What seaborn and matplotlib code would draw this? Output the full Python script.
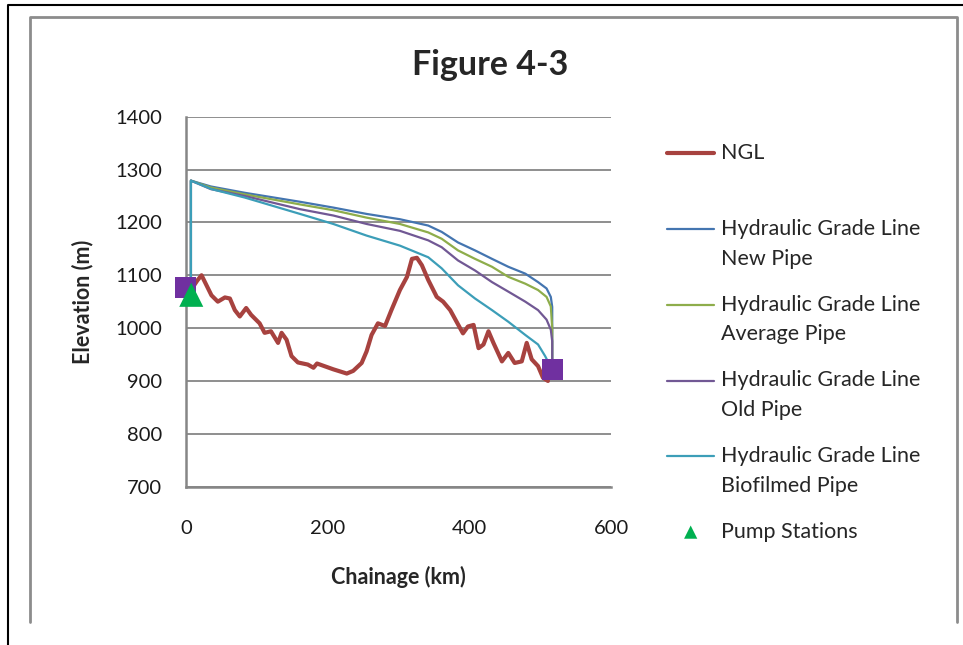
import matplotlib
matplotlib.use("Agg")
import numpy as np
import matplotlib.pyplot as plt
from matplotlib.lines import Line2D
from matplotlib.legend_handler import HandlerLine2D
import seaborn as sns

# natural ground level profile (km, m)
ngl_km = [10, 16, 22, 29, 36, 45, 55, 62, 69, 76, 85, 92, 104, 111, 120, 130, 135, 142, 149, 158,
          172, 180, 185, 208, 227, 236, 248, 255, 262, 271, 281, 290, 302, 312, 319, 326, 333, 342, 354, 363,
          373, 382, 391, 398, 406, 413, 420, 427, 434, 446, 455, 464, 474, 481, 488, 497, 504, 511]
ngl_m = [1078, 1090, 1100, 1081, 1062, 1050, 1058, 1056, 1034, 1022, 1038, 1025, 1009, 991, 994, 972, 991, 978, 947, 935,
         931, 925, 933, 922, 914, 919, 934, 956, 987, 1009, 1004, 1034, 1072, 1097, 1131, 1133, 1119, 1091, 1059, 1050,
         1034, 1012, 990, 1003, 1006, 962, 969, 994, 972, 937, 953, 934, 937, 972, 941, 928, 906, 900]

# hydraulic grade lines
hgl_km = [7, 7, 35, 83, 161, 208, 255, 302, 342, 361, 384, 408, 432, 455, 479, 497, 509, 515, 517, 517]
hgl_new = [1078, 1279, 1268, 1256, 1239, 1228, 1216, 1206, 1194, 1182, 1162, 1147, 1131, 1116, 1103, 1087, 1075, 1059, 1040, 922]
hgl_avg = [1078, 1279, 1266, 1253, 1234, 1223, 1209, 1197, 1181, 1169, 1147, 1131, 1116, 1097, 1084, 1072, 1059, 1041, 1000, 922]
hgl_old = [1078, 1279, 1263, 1250, 1225, 1213, 1197, 1184, 1166, 1153, 1128, 1109, 1087, 1069, 1050, 1034, 1016, 997, 975, 922]
bio_km = [7, 7, 36, 83, 161, 208, 255, 302, 342, 361, 384, 408, 432, 455, 479, 497, 507, 512, 517]
hgl_bio = [1078, 1279, 1263, 1247, 1216, 1197, 1175, 1156, 1134, 1113, 1081, 1056, 1034, 1012, 987, 969, 947, 934, 922]

# reservoirs (purple squares) and pump stations
res_km = [0, 517.5]
res_m = [1077, 922]
pump_km = [7.5]
pump_m = [1063]


class FirstLineHandler(HandlerLine2D):
    # put the legend line next to the first line of a two line label
    def __init__(self, shift, **kw):
        super().__init__(**kw)
        self.shift = shift

    def create_artists(self, legend, orig_handle, xdescent, ydescent, width, height, fontsize, trans):
        arts = super().create_artists(legend, orig_handle, xdescent, ydescent, width, height, fontsize, trans)
        for a in arts:
            a.set_ydata(np.asarray(a.get_ydata()) + self.shift)
        return arts


sns.set_style("white")
plt.rcParams['font.family'] = ['Lato', 'DejaVu Sans']

fig = plt.figure(figsize=(9.63, 6.45), dpi=100)
ax = fig.add_axes([0.1931, 0.2455, 0.4414, 0.5736])

c_ngl = '#A7423F'
series = [
    ('Hydraulic Grade Line\nNew Pipe', hgl_km, hgl_new, '#4475B0'),
    ('Hydraulic Grade Line\nAverage Pipe', hgl_km, hgl_avg, '#8EAD4B'),
    ('Hydraulic Grade Line\nOld Pipe', hgl_km, hgl_old, '#715894'),
    ('Hydraulic Grade Line\nBiofilmed Pipe', bio_km, hgl_bio, '#3C9EB8'),
]
for label, xs, ys, col in series:
    sns.lineplot(x=xs, y=ys, sort=False, estimator=None, color=col, lw=1.6, ax=ax, label=label, zorder=3)
sns.lineplot(x=ngl_km, y=ngl_m, sort=False, estimator=None, color=c_ngl, lw=3, ax=ax, label='NGL\n ', zorder=4)
sns.scatterplot(x=res_km, y=res_m, marker='s', s=230, color='#7030A0', edgecolor='none', ax=ax, zorder=5,
                label='_nolegend_', clip_on=False)
sns.scatterplot(x=pump_km, y=pump_m, marker='^', s=300, color='#00B050', edgecolor='none', ax=ax, zorder=6,
                label='Pump Stations', clip_on=False)

ax.set_xlim(0, 600)
ax.set_ylim(700, 1400)
ax.set_xticks([0, 200, 400, 600])
ax.set_yticks(range(700, 1401, 100))
ax.grid(axis='y', color='#868686', lw=1.3)
ax.grid(axis='x', visible=False)
for s in ['top', 'right']:
    ax.spines[s].set_visible(False)
for s in ['left', 'bottom']:
    ax.spines[s].set_color('#868686')
    ax.spines[s].set_linewidth(1.8)
ax.tick_params(length=0, labelsize=14.5, colors='#1a1a1a')
ax.tick_params(axis='y', pad=17)
ax.tick_params(axis='x', pad=24)
ax.set_xlabel('Chainage (km)', fontsize=15.5, fontweight='bold', labelpad=21)
ax.set_ylabel('Elevation (m)', fontsize=15.5, fontweight='bold', labelpad=16)

fig.text(0.509, 1 - 65 / 645, 'Figure 4-3', ha='center', va='center', fontsize=24.5, fontweight='bold')

# legend in the Excel order
handles, labels = ax.get_legend_handles_labels()
order = ['NGL\n '] + [s[0] for s in series] + ['Pump Stations']
hmap = {h: FirstLineHandler(10.8) for h, l in zip(handles, labels) if '\n' in l}
hl = [handles[labels.index(o)] for o in order]
leg = ax.legend(hl, order, loc='upper left', bbox_to_anchor=(667 / 963, 1 - 143 / 645),
                bbox_transform=fig.transFigure, frameon=False, fontsize=15.5, handlelength=2.2,
                handletextpad=0.3, labelspacing=1.2, borderpad=0, borderaxespad=0,
                markerscale=0.55, handler_map=hmap)
for t in leg.get_texts():
    t.set_linespacing(1.62)

# chart area frame
fig.add_artist(Line2D([8 / 963, 8 / 963, 1], [0, 1 - 5 / 645, 1 - 5 / 645], color='black', lw=1.5))
fig.add_artist(Line2D([30 / 963, 30 / 963, 957 / 963, 957 / 963],
                      [1 - 622 / 645, 1 - 17 / 645, 1 - 17 / 645, 1 - 622 / 645], color='#8c8c8c', lw=2))

fig.savefig('out.png', dpi=100)
